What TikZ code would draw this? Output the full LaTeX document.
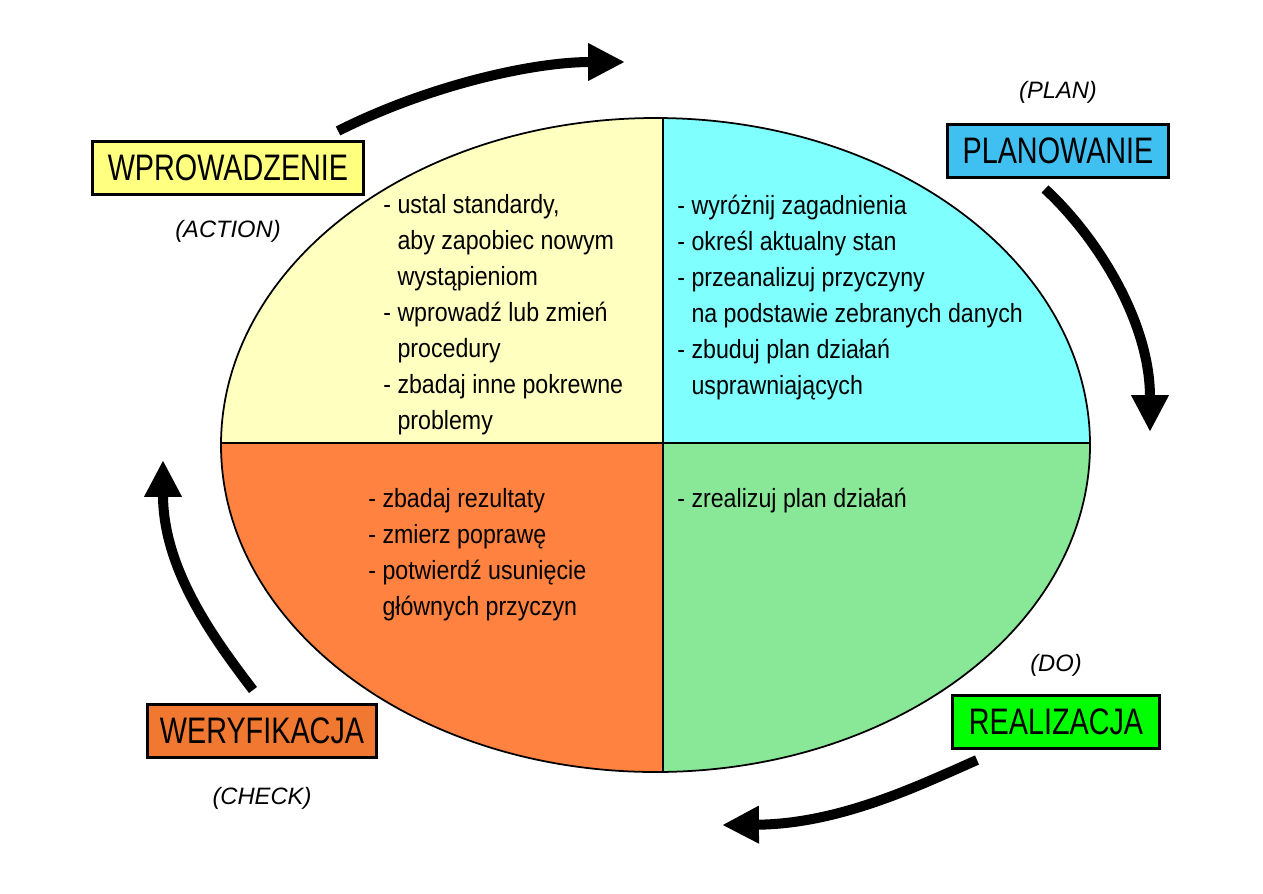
\documentclass[tikz,border=0pt]{standalone}
\usepackage{fontspec}
\setmainfont{Liberation Sans}
\newfontfamily\bodyfont[FakeStretch=0.88]{Liberation Sans}
\newfontfamily\labelfont[FakeStretch=0.78]{Liberation Sans}
\usetikzlibrary{arrows.meta,positioning}
\definecolor{actyellow}{RGB}{255,255,128}
\definecolor{actpale}{RGB}{255,255,192}
\definecolor{planblue}{RGB}{64,192,240}
\definecolor{plancyan}{RGB}{128,255,255}
\definecolor{dogreen}{RGB}{0,255,0}
\definecolor{dopale}{RGB}{136,232,152}
\definecolor{checkorange}{RGB}{240,120,48}
\definecolor{checkpale}{RGB}{255,130,64}
\tikzset{
  phase/.style={draw=black, fill=#1, line width=1.5pt, inner sep=0pt,
    minimum height=30pt, font=\labelfont\fontsize{21}{21}\selectfont},
  tag/.style={inner sep=0pt, font=\itshape\fontsize{13.5}{14}\selectfont},
  tasks/.style={anchor=north west, inner sep=0pt, align=left,
    font=\bodyfont\fontsize{15}{20.5}\selectfont},
  cyclearrow/.style={-{Triangle[length=21pt,width=20pt]}, line width=5.7pt, black}
}

\begin{document}
\begin{tikzpicture}[x=0.02cm, y=-0.02cm]
  \useasboundingbox (0,0) rectangle (1263,893);
  % quadrants of the cycle
  \begin{scope}
    \clip (655.5,445) ellipse [x radius=434.5, y radius=327];
    \fill[actpale] (200,100) rectangle (663,443);
    \fill[plancyan] (663,100) rectangle (1100,443);
    \fill[checkpale] (200,443) rectangle (663,790);
    \fill[dopale] (663,443) rectangle (1100,790);
    \draw[line width=1pt] (663,100) -- (663,790) (200,443) -- (1100,443);
  \end{scope}
  \draw[line width=1pt] (655.5,445) ellipse [x radius=434.5, y radius=327];

  \node[tasks] (acttxt) at (383,194) {- ustal standardy,\\\hphantom{- }aby zapobiec nowym\\\hphantom{- }wystąpieniom\\- wprowadź lub zmień\\\hphantom{- }procedury\\- zbadaj inne pokrewne\\\hphantom{- }problemy};
  \node[tasks] (plantxt) at (677,195) {- wyróżnij zagadnienia\\- określ aktualny stan\\- przeanalizuj przyczyny\\\hphantom{- }na podstawie zebranych danych\\- zbuduj plan działań\\\hphantom{- }usprawniających};
  \node[tasks] (checktxt) at (368,488) {- zbadaj rezultaty\\- zmierz poprawę\\- potwierdź usunięcie\\\hphantom{- }głównych przyczyn};
  \node[tasks] (dotxt) at (677,488) {- zrealizuj plan działań};

  % phase boxes
  \node[phase=actyellow, minimum width=154pt] (act) at (228,168) {WPROWADZENIE};
  \node[phase=planblue, minimum width=126pt] (plan) at (1058,151) {PLANOWANIE};
  \node[phase=checkorange, minimum width=130pt] (check) at (262,731) {WERYFIKACJA};
  \node[phase=dogreen, minimum width=118pt] (do) at (1056,722) {REALIZACJA};
  \node[tag, below=14pt of act] (actlbl) {(ACTION)};
  \node[tag, above=11pt of plan] (planlbl) {(PLAN)};
  \node[tag, below=16pt of check] (checklbl) {(CHECK)};
  \node[tag, above=10pt of do] (dolbl) {(DO)};

  % arrows round the cycle
  \coordinate (topfrom) at (338,131);
  \coordinate (topto) at (625,62);
  \coordinate (rightfrom) at (1045,189);
  \coordinate (rightto) at (1150,432);
  \coordinate (bottomfrom) at (977,760);
  \coordinate (bottomto) at (722,825);
  \coordinate (leftfrom) at (253,690);
  \coordinate (leftto) at (163,460);
  \draw[cyclearrow] (topfrom) .. controls (425,87) and (530,62) .. (topto);
  \draw[cyclearrow] (rightfrom) .. controls (1095,235) and (1150,320) .. (rightto);
  \draw[cyclearrow] (bottomfrom) .. controls (920,785) and (840,824) .. (bottomto);
  \draw[cyclearrow] (leftfrom) .. controls (215,640) and (163,570) .. (leftto);
\end{tikzpicture}
\end{document}
